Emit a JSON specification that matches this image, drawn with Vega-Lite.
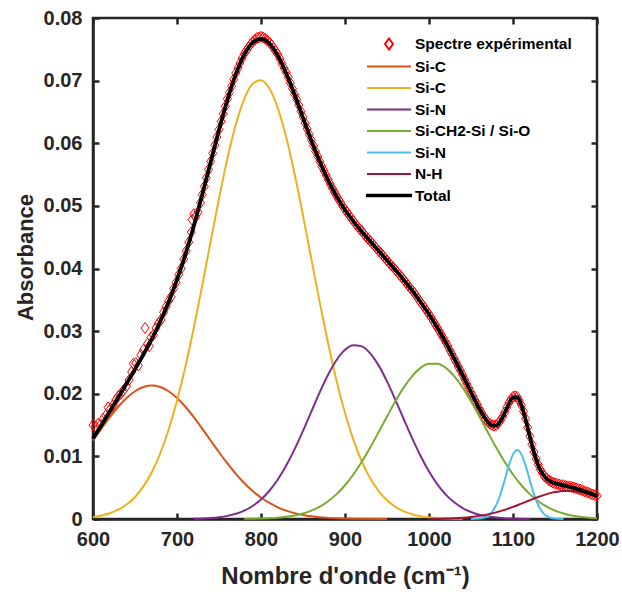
{
  "$schema": "https://vega.github.io/schema/vega-lite/v6.json",
  "width": 504,
  "height": 501,
  "autosize": {"type": "none"},
  "padding": {"left": 93, "top": 18, "right": 25, "bottom": 77},
  "background": "white",
  "config": {
    "view": {"stroke": "#262626", "strokeWidth": 2.5},
    "font": "Liberation Sans",
    "axis": {
      "grid": false,
      "labelFlush": false,
      "domainColor": "#262626",
      "domainWidth": 2.5,
      "tickColor": "#262626",
      "tickWidth": 2.5,
      "tickSize": 6,
      "labelFont": "Liberation Sans",
      "labelFontWeight": "bold",
      "labelFontSize": 20,
      "labelColor": "#262626",
      "titleFont": "Liberation Sans",
      "titleFontWeight": "bold",
      "titleFontSize": 22,
      "titleColor": "#262626"
    },
    "legend": {
      "orient": "none",
      "legendX": 285,
      "legendY": 15,
      "padding": 0,
      "symbolSize": 400,
      "symbolStrokeWidth": 2,
      "labelFont": "Liberation Sans",
      "labelFontWeight": "bold",
      "labelFontSize": 15.5,
      "labelColor": "#000000",
      "labelOffset": 15,
      "rowPadding": 1.5,
      "labelLimit": 300
    }
  },
  "data": {"values": [
    {"s":"exp","x":600,"y":0.0150},{"s":"exp","x":603,"y":0.0148},{"s":"exp","x":606,"y":0.0152},{"s":"exp","x":609,"y":0.0151},{"s":"exp","x":612,"y":0.0160},{"s":"exp","x":615,"y":0.0165},{"s":"exp","x":618,"y":0.0178},{"s":"exp","x":621,"y":0.0176},{"s":"exp","x":624,"y":0.0182},{"s":"exp","x":627,"y":0.0190},{"s":"exp","x":630,"y":0.0196},{"s":"exp","x":633,"y":0.0200},{"s":"exp","x":636,"y":0.0205},{"s":"exp","x":640,"y":0.0212},{"s":"exp","x":643,"y":0.0222},{"s":"exp","x":646,"y":0.0235},{"s":"exp","x":648,"y":0.0248},{"s":"exp","x":651,"y":0.0249},{"s":"exp","x":654,"y":0.0245},{"s":"exp","x":657,"y":0.0262},{"s":"exp","x":660,"y":0.0270},{"s":"exp","x":662,"y":0.0305},{"s":"exp","x":665,"y":0.0280},{"s":"exp","x":667,"y":0.0276},{"s":"exp","x":669,"y":0.0290},{"s":"exp","x":672,"y":0.0294},{"s":"exp","x":675,"y":0.0305},{"s":"exp","x":678,"y":0.0313},{"s":"exp","x":681,"y":0.0318},{"s":"exp","x":684,"y":0.0330},{"s":"exp","x":687,"y":0.0339},{"s":"exp","x":690,"y":0.0348},{"s":"exp","x":693,"y":0.0355},{"s":"exp","x":696,"y":0.0368},{"s":"exp","x":699,"y":0.0378},{"s":"exp","x":702,"y":0.0390},{"s":"exp","x":705,"y":0.0400},{"s":"exp","x":708,"y":0.0415},{"s":"exp","x":711,"y":0.0428},{"s":"exp","x":714,"y":0.0442},{"s":"exp","x":717,"y":0.0458},{"s":"exp","x":718,"y":0.0478},{"s":"exp","x":720,"y":0.0487},{"s":"exp","x":722,"y":0.0482},{"s":"exp","x":725,"y":0.0490},{"s":"exp","x":728,"y":0.0505},
    {"s":"exp","x":730,"y":0.0518},{"s":"exp","x":732.5,"y":0.0531},{"s":"exp","x":735,"y":0.0545},{"s":"exp","x":737.5,"y":0.0558},{"s":"exp","x":740,"y":0.0571},{"s":"exp","x":742.5,"y":0.0584},{"s":"exp","x":745,"y":0.0597},{"s":"exp","x":747.5,"y":0.0610},{"s":"exp","x":750,"y":0.0622},{"s":"exp","x":752.5,"y":0.0635},{"s":"exp","x":755,"y":0.0647},{"s":"exp","x":757.5,"y":0.0659},{"s":"exp","x":760,"y":0.0671},{"s":"exp","x":762.5,"y":0.0681},{"s":"exp","x":765,"y":0.0691},{"s":"exp","x":767.5,"y":0.0702},{"s":"exp","x":770,"y":0.0712},{"s":"exp","x":772.5,"y":0.0720},{"s":"exp","x":775,"y":0.0728},{"s":"exp","x":777.5,"y":0.0736},{"s":"exp","x":780,"y":0.0743},{"s":"exp","x":782.5,"y":0.0748},{"s":"exp","x":785,"y":0.0753},{"s":"exp","x":787.5,"y":0.0758},{"s":"exp","x":790,"y":0.0762},{"s":"exp","x":792.5,"y":0.0765},{"s":"exp","x":795,"y":0.0768},{"s":"exp","x":797.5,"y":0.0769},{"s":"exp","x":800,"y":0.0770},{"s":"exp","x":802.5,"y":0.0769},{"s":"exp","x":805,"y":0.0767},{"s":"exp","x":807.5,"y":0.0764},{"s":"exp","x":810,"y":0.0761},{"s":"exp","x":812.5,"y":0.0757},{"s":"exp","x":815,"y":0.0752},{"s":"exp","x":817.5,"y":0.0747},{"s":"exp","x":820,"y":0.0742},{"s":"exp","x":822.5,"y":0.0735},{"s":"exp","x":825,"y":0.0727},{"s":"exp","x":827.5,"y":0.0720},{"s":"exp","x":830,"y":0.0713},{"s":"exp","x":832.5,"y":0.0705},{"s":"exp","x":835,"y":0.0696},{"s":"exp","x":837.5,"y":0.0687},{"s":"exp","x":840,"y":0.0678},{"s":"exp","x":842.5,"y":0.0670},{"s":"exp","x":845,"y":0.0661},{"s":"exp","x":847.5,"y":0.0651},{"s":"exp","x":850,"y":0.0642},{"s":"exp","x":852.5,"y":0.0632},{"s":"exp","x":855,"y":0.0623},{"s":"exp","x":857.5,"y":0.0614},{"s":"exp","x":860,"y":0.0605},{"s":"exp","x":862.5,"y":0.0596},{"s":"exp","x":865,"y":0.0587},{"s":"exp","x":867.5,"y":0.0579},{"s":"exp","x":870,"y":0.0571},{"s":"exp","x":872.5,"y":0.0563},{"s":"exp","x":875,"y":0.0556},{"s":"exp","x":877.5,"y":0.0549},{"s":"exp","x":880,"y":0.0542},{"s":"exp","x":882.5,"y":0.0535},{"s":"exp","x":885,"y":0.0528},{"s":"exp","x":887.5,"y":0.0522},{"s":"exp","x":890,"y":0.0516},{"s":"exp","x":892.5,"y":0.0510},{"s":"exp","x":895,"y":0.0505},{"s":"exp","x":897.5,"y":0.0499},{"s":"exp","x":900,"y":0.0494},{"s":"exp","x":902.5,"y":0.0490},{"s":"exp","x":905,"y":0.0485},{"s":"exp","x":907.5,"y":0.0480},{"s":"exp","x":910,"y":0.0476},{"s":"exp","x":912.5,"y":0.0471},{"s":"exp","x":915,"y":0.0467},{"s":"exp","x":917.5,"y":0.0463},{"s":"exp","x":920,"y":0.0460},{"s":"exp","x":922.5,"y":0.0455},{"s":"exp","x":925,"y":0.0451},{"s":"exp","x":927.5,"y":0.0447},{"s":"exp","x":930,"y":0.0444},{"s":"exp","x":932.5,"y":0.0440},{"s":"exp","x":935,"y":0.0436},{"s":"exp","x":937.5,"y":0.0432},{"s":"exp","x":940,"y":0.0428},{"s":"exp","x":942.5,"y":0.0425},{"s":"exp","x":945,"y":0.0421},{"s":"exp","x":947.5,"y":0.0417},{"s":"exp","x":950,"y":0.0413},{"s":"exp","x":952.5,"y":0.0409},{"s":"exp","x":955,"y":0.0405},{"s":"exp","x":957.5,"y":0.0402},{"s":"exp","x":960,"y":0.0398},{"s":"exp","x":962.5,"y":0.0394},{"s":"exp","x":965,"y":0.0390},{"s":"exp","x":967.5,"y":0.0386},{"s":"exp","x":970,"y":0.0382},{"s":"exp","x":972.5,"y":0.0378},{"s":"exp","x":975,"y":0.0373},{"s":"exp","x":977.5,"y":0.0369},{"s":"exp","x":980,"y":0.0365},{"s":"exp","x":982.5,"y":0.0361},{"s":"exp","x":985,"y":0.0356},{"s":"exp","x":987.5,"y":0.0351},{"s":"exp","x":990,"y":0.0346},{"s":"exp","x":992.5,"y":0.0342},{"s":"exp","x":995,"y":0.0337},{"s":"exp","x":997.5,"y":0.0332},{"s":"exp","x":1000,"y":0.0327},{"s":"exp","x":1002.5,"y":0.0322},{"s":"exp","x":1005,"y":0.0316},{"s":"exp","x":1007.5,"y":0.0311},{"s":"exp","x":1010,"y":0.0305},{"s":"exp","x":1012.5,"y":0.0300},{"s":"exp","x":1015,"y":0.0294},{"s":"exp","x":1017.5,"y":0.0288},{"s":"exp","x":1020,"y":0.0282},{"s":"exp","x":1022.5,"y":0.0276},{"s":"exp","x":1025,"y":0.0269},{"s":"exp","x":1027.5,"y":0.0263},{"s":"exp","x":1030,"y":0.0256},{"s":"exp","x":1032.5,"y":0.0250},{"s":"exp","x":1035,"y":0.0243},{"s":"exp","x":1037.5,"y":0.0237},{"s":"exp","x":1040,"y":0.0230},{"s":"exp","x":1042.5,"y":0.0223},{"s":"exp","x":1045,"y":0.0216},{"s":"exp","x":1047.5,"y":0.0209},{"s":"exp","x":1050,"y":0.0202},{"s":"exp","x":1052.5,"y":0.0196},{"s":"exp","x":1055,"y":0.0189},{"s":"exp","x":1057.5,"y":0.0183},{"s":"exp","x":1060,"y":0.0176},{"s":"exp","x":1062.5,"y":0.0170},{"s":"exp","x":1065,"y":0.0164},{"s":"exp","x":1067.5,"y":0.0159},{"s":"exp","x":1070,"y":0.0155},{"s":"exp","x":1072.5,"y":0.0152},{"s":"exp","x":1075,"y":0.0150},{"s":"exp","x":1077.5,"y":0.0149},{"s":"exp","x":1080,"y":0.0150},{"s":"exp","x":1082.5,"y":0.0153},{"s":"exp","x":1085,"y":0.0157},{"s":"exp","x":1087.5,"y":0.0163},{"s":"exp","x":1090,"y":0.0170},{"s":"exp","x":1092.5,"y":0.0178},{"s":"exp","x":1095,"y":0.0185},{"s":"exp","x":1097.5,"y":0.0191},{"s":"exp","x":1100,"y":0.0195},{"s":"exp","x":1102.5,"y":0.0196},{"s":"exp","x":1105,"y":0.0195},{"s":"exp","x":1107.5,"y":0.0189},{"s":"exp","x":1110,"y":0.0182},{"s":"exp","x":1112.5,"y":0.0172},{"s":"exp","x":1115,"y":0.0160},{"s":"exp","x":1117.5,"y":0.0146},{"s":"exp","x":1120,"y":0.0132},{"s":"exp","x":1122.5,"y":0.0119},{"s":"exp","x":1125,"y":0.0107},{"s":"exp","x":1127.5,"y":0.0096},{"s":"exp","x":1130,"y":0.0087},{"s":"exp","x":1132.5,"y":0.0079},{"s":"exp","x":1135,"y":0.0073},{"s":"exp","x":1137.5,"y":0.0068},{"s":"exp","x":1140,"y":0.0065},{"s":"exp","x":1142.5,"y":0.0062},{"s":"exp","x":1145,"y":0.0060},{"s":"exp","x":1147.5,"y":0.0058},{"s":"exp","x":1150,"y":0.0057},{"s":"exp","x":1152.5,"y":0.0056},{"s":"exp","x":1155,"y":0.0055},{"s":"exp","x":1157.5,"y":0.0054},{"s":"exp","x":1160,"y":0.0054},{"s":"exp","x":1162.5,"y":0.0053},{"s":"exp","x":1165,"y":0.0052},{"s":"exp","x":1167.5,"y":0.0052},{"s":"exp","x":1170,"y":0.0051},{"s":"exp","x":1172.5,"y":0.0050},{"s":"exp","x":1175,"y":0.0049},{"s":"exp","x":1177.5,"y":0.0048},{"s":"exp","x":1180,"y":0.0047},{"s":"exp","x":1182.5,"y":0.0046},{"s":"exp","x":1185,"y":0.0044},{"s":"exp","x":1187.5,"y":0.0043},{"s":"exp","x":1190,"y":0.0042},{"s":"exp","x":1192.5,"y":0.0040},{"s":"exp","x":1195,"y":0.0039},{"s":"exp","x":1197.5,"y":0.0038},{"s":"exp","x":1200,"y":0.0037},
    {"s":"c1","x":600,"y":0.01254},{"s":"c1","x":610,"y":0.01443},{"s":"c1","x":620,"y":0.01626},{"s":"c1","x":630,"y":0.01792},{"s":"c1","x":640,"y":0.01933},{"s":"c1","x":650,"y":0.0204},{"s":"c1","x":660,"y":0.02107},{"s":"c1","x":670,"y":0.0213},{"s":"c1","x":680,"y":0.02107},{"s":"c1","x":690,"y":0.0204},{"s":"c1","x":700,"y":0.01933},{"s":"c1","x":710,"y":0.01792},{"s":"c1","x":720,"y":0.01626},{"s":"c1","x":730,"y":0.01443},{"s":"c1","x":740,"y":0.01254},{"s":"c1","x":750,"y":0.01066},{"s":"c1","x":760,"y":0.00887},{"s":"c1","x":770,"y":0.00722},{"s":"c1","x":780,"y":0.00576},{"s":"c1","x":790,"y":0.00449},{"s":"c1","x":800,"y":0.00343},{"s":"c1","x":810,"y":0.00256},{"s":"c1","x":820,"y":0.00187},{"s":"c1","x":830,"y":0.00134},{"s":"c1","x":840,"y":0.00094},{"s":"c1","x":850,"y":0.00064},{"s":"c1","x":860,"y":0.00043},{"s":"c1","x":870,"y":0.00028},{"s":"c1","x":880,"y":0.00018},{"s":"c1","x":890,"y":0.00011},{"s":"c1","x":900,"y":0.00007},{"s":"c1","x":920,"y":0.00003},{"s":"c1","x":950,"y":0},
    {"s":"c2","x":600,"y":0.00033},{"s":"c2","x":610,"y":0.00056},{"s":"c2","x":620,"y":0.00092},{"s":"c2","x":630,"y":0.00148},{"s":"c2","x":640,"y":0.00231},{"s":"c2","x":650,"y":0.00352},{"s":"c2","x":660,"y":0.0052},{"s":"c2","x":670,"y":0.00747},{"s":"c2","x":680,"y":0.01046},{"s":"c2","x":690,"y":0.01425},{"s":"c2","x":700,"y":0.01888},{"s":"c2","x":710,"y":0.02434},{"s":"c2","x":720,"y":0.03054},{"s":"c2","x":730,"y":0.03727},{"s":"c2","x":740,"y":0.04427},{"s":"c2","x":750,"y":0.05117},{"s":"c2","x":760,"y":0.05755},{"s":"c2","x":770,"y":0.06298},{"s":"c2","x":780,"y":0.06706},{"s":"c2","x":790,"y":0.06949},{"s":"c2","x":800,"y":0.07006},{"s":"c2","x":810,"y":0.06873},{"s":"c2","x":820,"y":0.06561},{"s":"c2","x":830,"y":0.06095},{"s":"c2","x":840,"y":0.05509},{"s":"c2","x":850,"y":0.04845},{"s":"c2","x":860,"y":0.04146},{"s":"c2","x":870,"y":0.03452},{"s":"c2","x":880,"y":0.02798},{"s":"c2","x":890,"y":0.02205},{"s":"c2","x":900,"y":0.01692},{"s":"c2","x":910,"y":0.01263},{"s":"c2","x":920,"y":0.00918},{"s":"c2","x":930,"y":0.00649},{"s":"c2","x":940,"y":0.00446},{"s":"c2","x":950,"y":0.00299},{"s":"c2","x":960,"y":0.00194},{"s":"c2","x":970,"y":0.00123},{"s":"c2","x":980,"y":0.00076},{"s":"c2","x":990,"y":0.00046},{"s":"c2","x":1000,"y":0.00027},{"s":"c2","x":1010,"y":0.00015},{"s":"c2","x":1020,"y":0.00008},{"s":"c2","x":1040,"y":0.00002},
    {"s":"c3","x":720,"y":0.00004},{"s":"c3","x":730,"y":0.00008},{"s":"c3","x":740,"y":0.00016},{"s":"c3","x":750,"y":0.00029},{"s":"c3","x":760,"y":0.0005},{"s":"c3","x":770,"y":0.00083},{"s":"c3","x":780,"y":0.00134},{"s":"c3","x":790,"y":0.00208},{"s":"c3","x":800,"y":0.00311},{"s":"c3","x":810,"y":0.00451},{"s":"c3","x":820,"y":0.00631},{"s":"c3","x":830,"y":0.00853},{"s":"c3","x":840,"y":0.01115},{"s":"c3","x":850,"y":0.01408},{"s":"c3","x":860,"y":0.01717},{"s":"c3","x":870,"y":0.02025},{"s":"c3","x":880,"y":0.02307},{"s":"c3","x":890,"y":0.02539},{"s":"c3","x":900,"y":0.02701},{"s":"c3","x":910,"y":0.02776},{"s":"c3","x":920,"y":0.02757},{"s":"c3","x":930,"y":0.02645},{"s":"c3","x":940,"y":0.02453},{"s":"c3","x":950,"y":0.02198},{"s":"c3","x":960,"y":0.01903},{"s":"c3","x":970,"y":0.01593},{"s":"c3","x":980,"y":0.01288},{"s":"c3","x":990,"y":0.01006},{"s":"c3","x":1000,"y":0.00759},{"s":"c3","x":1010,"y":0.00554},{"s":"c3","x":1020,"y":0.0039},{"s":"c3","x":1030,"y":0.00266},{"s":"c3","x":1040,"y":0.00175},{"s":"c3","x":1050,"y":0.00111},{"s":"c3","x":1060,"y":0.00068},{"s":"c3","x":1070,"y":0.00041},{"s":"c3","x":1080,"y":0.00023},{"s":"c3","x":1090,"y":0.00013},{"s":"c3","x":1100,"y":0.00007},{"s":"c3","x":1120,"y":0.00002},
    {"s":"c4","x":780,"y":0.00002},{"s":"c4","x":800,"y":0.00007},{"s":"c4","x":810,"y":0.00013},{"s":"c4","x":820,"y":0.00021},{"s":"c4","x":830,"y":0.00035},{"s":"c4","x":840,"y":0.00057},{"s":"c4","x":850,"y":0.00088},{"s":"c4","x":860,"y":0.00134},{"s":"c4","x":870,"y":0.00198},{"s":"c4","x":880,"y":0.00284},{"s":"c4","x":890,"y":0.00397},{"s":"c4","x":900,"y":0.00539},{"s":"c4","x":910,"y":0.00711},{"s":"c4","x":920,"y":0.00913},{"s":"c4","x":930,"y":0.0114},{"s":"c4","x":940,"y":0.01385},{"s":"c4","x":950,"y":0.01636},{"s":"c4","x":960,"y":0.0188},{"s":"c4","x":970,"y":0.02101},{"s":"c4","x":980,"y":0.02283},{"s":"c4","x":990,"y":0.02413},{"s":"c4","x":1000,"y":0.02481},{"s":"c4","x":1010,"y":0.02481},{"s":"c4","x":1020,"y":0.02413},{"s":"c4","x":1030,"y":0.02283},{"s":"c4","x":1040,"y":0.02101},{"s":"c4","x":1050,"y":0.0188},{"s":"c4","x":1060,"y":0.01636},{"s":"c4","x":1070,"y":0.01385},{"s":"c4","x":1080,"y":0.0114},{"s":"c4","x":1090,"y":0.00913},{"s":"c4","x":1100,"y":0.00711},{"s":"c4","x":1110,"y":0.00539},{"s":"c4","x":1120,"y":0.00397},{"s":"c4","x":1130,"y":0.00284},{"s":"c4","x":1140,"y":0.00198},{"s":"c4","x":1150,"y":0.00134},{"s":"c4","x":1160,"y":0.00088},{"s":"c4","x":1170,"y":0.00057},{"s":"c4","x":1180,"y":0.00035},{"s":"c4","x":1190,"y":0.00021},{"s":"c4","x":1200,"y":0.00013},
    {"s":"c5","x":1050,"y":0},{"s":"c5","x":1060,"y":0.00006},{"s":"c5","x":1065,"y":0.00019},{"s":"c5","x":1070,"y":0.00048},{"s":"c5","x":1075,"y":0.00111},{"s":"c5","x":1080,"y":0.00223},{"s":"c5","x":1085,"y":0.00396},{"s":"c5","x":1090,"y":0.0062},{"s":"c5","x":1095,"y":0.00852},{"s":"c5","x":1100,"y":0.01032},{"s":"c5","x":1105,"y":0.011},{"s":"c5","x":1110,"y":0.01032},{"s":"c5","x":1115,"y":0.00852},{"s":"c5","x":1120,"y":0.0062},{"s":"c5","x":1125,"y":0.00396},{"s":"c5","x":1130,"y":0.00223},{"s":"c5","x":1135,"y":0.00111},{"s":"c5","x":1140,"y":0.00048},{"s":"c5","x":1145,"y":0.00019},{"s":"c5","x":1150,"y":0.00006},{"s":"c5","x":1160,"y":0},
    {"s":"c6","x":1000,"y":0.00002},{"s":"c6","x":1020,"y":0.00007},{"s":"c6","x":1030,"y":0.00012},{"s":"c6","x":1040,"y":0.0002},{"s":"c6","x":1050,"y":0.00032},{"s":"c6","x":1060,"y":0.0005},{"s":"c6","x":1070,"y":0.00074},{"s":"c6","x":1080,"y":0.00106},{"s":"c6","x":1090,"y":0.00146},{"s":"c6","x":1100,"y":0.00193},{"s":"c6","x":1110,"y":0.00246},{"s":"c6","x":1120,"y":0.003},{"s":"c6","x":1130,"y":0.00352},{"s":"c6","x":1140,"y":0.00397},{"s":"c6","x":1150,"y":0.0043},{"s":"c6","x":1160,"y":0.00448},{"s":"c6","x":1170,"y":0.00448},{"s":"c6","x":1180,"y":0.0043},{"s":"c6","x":1190,"y":0.00397},{"s":"c6","x":1200,"y":0.00352},
    {"s":"tot","x":600,"y":0.01287},{"s":"tot","x":610,"y":0.01499},{"s":"tot","x":620,"y":0.01718},{"s":"tot","x":630,"y":0.0194},{"s":"tot","x":640,"y":0.02164},{"s":"tot","x":650,"y":0.02392},{"s":"tot","x":660,"y":0.02627},{"s":"tot","x":670,"y":0.02877},{"s":"tot","x":680,"y":0.03153},{"s":"tot","x":690,"y":0.03465},{"s":"tot","x":700,"y":0.03821},{"s":"tot","x":710,"y":0.04226},{"s":"tot","x":720,"y":0.0468},{"s":"tot","x":730,"y":0.05178},{"s":"tot","x":740,"y":0.05697},{"s":"tot","x":750,"y":0.06212},{"s":"tot","x":760,"y":0.06692},{"s":"tot","x":770,"y":0.07103},{"s":"tot","x":780,"y":0.07416},{"s":"tot","x":790,"y":0.07606},{"s":"tot","x":800,"y":0.07667},{"s":"tot","x":810,"y":0.07593},{"s":"tot","x":820,"y":0.074},{"s":"tot","x":830,"y":0.07117},{"s":"tot","x":840,"y":0.06775},{"s":"tot","x":850,"y":0.06405},{"s":"tot","x":860,"y":0.0604},{"s":"tot","x":870,"y":0.05703},{"s":"tot","x":880,"y":0.05407},{"s":"tot","x":890,"y":0.05152},{"s":"tot","x":900,"y":0.04939},{"s":"tot","x":910,"y":0.04754},{"s":"tot","x":920,"y":0.04588},{"s":"tot","x":930,"y":0.04434},{"s":"tot","x":940,"y":0.04284},{"s":"tot","x":950,"y":0.04133},{"s":"tot","x":960,"y":0.03977},{"s":"tot","x":970,"y":0.03817},{"s":"tot","x":980,"y":0.03647},{"s":"tot","x":990,"y":0.03465},{"s":"tot","x":1000,"y":0.03269},{"s":"tot","x":1010,"y":0.03054},{"s":"tot","x":1020,"y":0.02818},{"s":"tot","x":1030,"y":0.02565},{"s":"tot","x":1040,"y":0.02296},{"s":"tot","x":1050,"y":0.02023},{"s":"tot","x":1055,"y":0.0189},{"s":"tot","x":1060,"y":0.0176},{"s":"tot","x":1065,"y":0.01643},{"s":"tot","x":1070,"y":0.01548},{"s":"tot","x":1075,"y":0.01492},{"s":"tot","x":1080,"y":0.01492},{"s":"tot","x":1085,"y":0.01562},{"s":"tot","x":1090,"y":0.01692},{"s":"tot","x":1095,"y":0.01839},{"s":"tot","x":1100,"y":0.01943},{"s":"tot","x":1105,"y":0.01945},{"s":"tot","x":1110,"y":0.01817},{"s":"tot","x":1115,"y":0.01589},{"s":"tot","x":1120,"y":0.01317},{"s":"tot","x":1125,"y":0.0106},{"s":"tot","x":1130,"y":0.00859},{"s":"tot","x":1135,"y":0.00725},{"s":"tot","x":1140,"y":0.00643},{"s":"tot","x":1145,"y":0.00598},{"s":"tot","x":1150,"y":0.0057},{"s":"tot","x":1155,"y":0.00552},{"s":"tot","x":1160,"y":0.00536},{"s":"tot","x":1170,"y":0.00505},{"s":"tot","x":1180,"y":0.00465},{"s":"tot","x":1190,"y":0.00418},{"s":"tot","x":1200,"y":0.00365}
  ]},
  "layer": [
    {
      "transform": [{"filter": "datum.s == 'exp'"}],
      "mark": {"type": "point", "size": 400, "filled": false, "strokeWidth": 1, "opacity": 1},
      "encoding": {
        "x": {"field": "x", "type": "quantitative", "scale": {"domain": [600, 1200], "nice": false, "zero": false},
              "axis": {"orient": "top", "offset": -501, "values": [600,700,800,900,1000,1100,1200], "labels": false, "domain": false, "title": null}},
        "y": {"field": "y", "type": "quantitative", "scale": {"domain": [0, 0.08], "nice": false, "zero": false},
              "axis": {"orient": "right", "offset": -504, "values": [0,0.01,0.02,0.03,0.04,0.05,0.06,0.07,0.08], "labels": false, "domain": false, "title": null}},
        "color": {
          "field": "s", "type": "nominal",
          "scale": {"domain": ["exp","c1","c2","c3","c4","c5","c6","tot"], "range": ["#FF0000","#D95319","#EDB120","#7E2F8E","#77AC30","#4DBEEE","#A2142F","#000000"]},
          "legend": {
            "title": null,
            "labelExpr": "datum.value == 'exp' ? 'Spectre expérimental' : (datum.value == 'c1' || datum.value == 'c2') ? 'Si-C' : (datum.value == 'c3' || datum.value == 'c5') ? 'Si-N' : datum.value == 'c4' ? 'Si-CH2-Si / Si-O' : datum.value == 'c6' ? 'N-H' : 'Total'"
          }
        },
        "shape": {
          "field": "s", "type": "nominal",
          "scale": {"domain": ["exp","c1","c2","c3","c4","c5","c6","tot"], "range": ["M0,-0.55L0.4,0L0,0.55L-0.4,0Z","M-2.2,0H2.2","M-2.2,0H2.2","M-2.2,0H2.2","M-2.2,0H2.2","M-2.2,0H2.2","M-2.2,0H2.2","M-2.2,-0.08H2.2V0.08H-2.2Z"]},
          "legend": {
            "title": null,
            "labelExpr": "datum.value == 'exp' ? 'Spectre expérimental' : (datum.value == 'c1' || datum.value == 'c2') ? 'Si-C' : (datum.value == 'c3' || datum.value == 'c5') ? 'Si-N' : datum.value == 'c4' ? 'Si-CH2-Si / Si-O' : datum.value == 'c6' ? 'N-H' : 'Total'"
          }
        }
      }
    },
    {
      "transform": [{"filter": "datum.s != 'exp' && datum.s != 'tot'"}],
      "mark": {"type": "line", "interpolate": "monotone", "strokeWidth": 2},
      "encoding": {
        "x": {"field": "x", "type": "quantitative", "scale": {"domain": [600, 1200], "nice": false, "zero": false},
              "axis": {"orient": "bottom", "values": [600,700,800,900,1000,1100,1200], "format": "d", "tickOpacity": 0, "labelPadding": 4, "title": "Nombre d'onde (cm⁻¹)", "titleFontSize": 24, "titlePadding": 15}},
        "y": {"field": "y", "type": "quantitative", "scale": {"domain": [0, 0.08], "nice": false, "zero": false},
              "axis": {"orient": "left", "values": [0,0.01,0.02,0.03,0.04,0.05,0.06,0.07,0.08], "format": ".2~f", "tickOpacity": 0, "labelPadding": 5, "title": "Absorbance", "titlePadding": 6, "titleY": 239}},
        "color": {"field": "s", "type": "nominal"}
      }
    },
    {
      "transform": [{"filter": "datum.s == 'tot'"}],
      "mark": {"type": "line", "interpolate": "monotone", "strokeWidth": 3.8},
      "encoding": {
        "x": {"field": "x", "type": "quantitative", "scale": {"domain": [600, 1200], "nice": false, "zero": false},
              "axis": {"orient": "bottom", "offset": -501, "values": [600,700,800,900,1000,1100,1200], "labels": false, "domain": false, "title": null}},
        "y": {"field": "y", "type": "quantitative", "scale": {"domain": [0, 0.08], "nice": false, "zero": false},
              "axis": {"orient": "left", "offset": -504, "values": [0,0.01,0.02,0.03,0.04,0.05,0.06,0.07,0.08], "labels": false, "domain": false, "title": null}},
        "color": {"field": "s", "type": "nominal"}
      }
    }
  ],
  "resolve": {"axis": {"x": "independent", "y": "independent"}}
}
